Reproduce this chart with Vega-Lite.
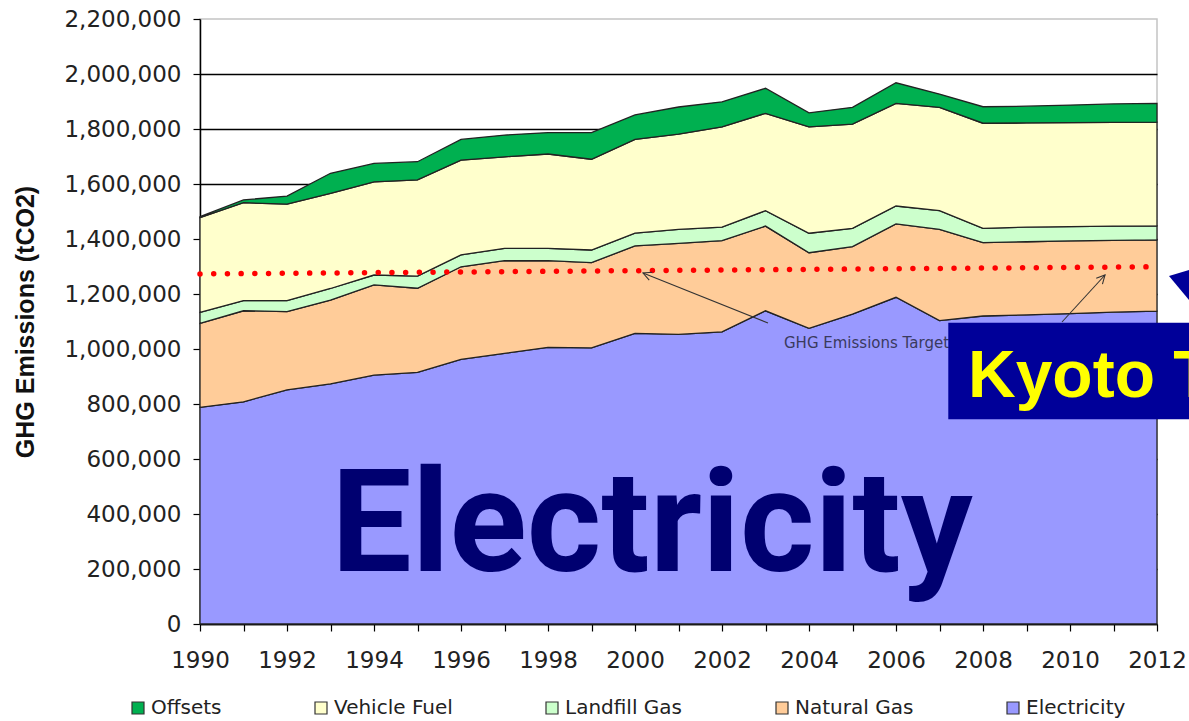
{
  "$schema": "https://vega.github.io/schema/vega-lite/v6.json",
  "width": 957,
  "height": 605,
  "autosize": {"type": "none"},
  "padding": {"left": 200, "top": 19, "right": 32, "bottom": 97},
  "background": "white",
  "config": {"view": {"stroke": "#c4c4c4", "strokeWidth": 1.5}},
  "layer": [
    {
      "data": {"values": [
        {"year":1990,"source":"Electricity","value":788000},{"year":1990,"source":"Natural Gas","value":305000},{"year":1990,"source":"Landfill Gas","value":40000},{"year":1990,"source":"Vehicle Fuel","value":345000},{"year":1990,"source":"Offsets","value":3000},
        {"year":1991,"source":"Electricity","value":808000},{"year":1991,"source":"Natural Gas","value":331000},{"year":1991,"source":"Landfill Gas","value":37000},{"year":1991,"source":"Vehicle Fuel","value":356000},{"year":1991,"source":"Offsets","value":10000},
        {"year":1992,"source":"Electricity","value":851000},{"year":1992,"source":"Natural Gas","value":285000},{"year":1992,"source":"Landfill Gas","value":40000},{"year":1992,"source":"Vehicle Fuel","value":351000},{"year":1992,"source":"Offsets","value":29000},
        {"year":1993,"source":"Electricity","value":873000},{"year":1993,"source":"Natural Gas","value":305000},{"year":1993,"source":"Landfill Gas","value":42000},{"year":1993,"source":"Vehicle Fuel","value":346000},{"year":1993,"source":"Offsets","value":73000},
        {"year":1994,"source":"Electricity","value":905000},{"year":1994,"source":"Natural Gas","value":328000},{"year":1994,"source":"Landfill Gas","value":36000},{"year":1994,"source":"Vehicle Fuel","value":339000},{"year":1994,"source":"Offsets","value":67000},
        {"year":1995,"source":"Electricity","value":915000},{"year":1995,"source":"Natural Gas","value":306000},{"year":1995,"source":"Landfill Gas","value":44000},{"year":1995,"source":"Vehicle Fuel","value":350000},{"year":1995,"source":"Offsets","value":66000},
        {"year":1996,"source":"Electricity","value":962000},{"year":1996,"source":"Natural Gas","value":337000},{"year":1996,"source":"Landfill Gas","value":43000},{"year":1996,"source":"Vehicle Fuel","value":345000},{"year":1996,"source":"Offsets","value":75000},
        {"year":1997,"source":"Electricity","value":984000},{"year":1997,"source":"Natural Gas","value":337000},{"year":1997,"source":"Landfill Gas","value":45000},{"year":1997,"source":"Vehicle Fuel","value":333000},{"year":1997,"source":"Offsets","value":79000},
        {"year":1998,"source":"Electricity","value":1006000},{"year":1998,"source":"Natural Gas","value":315000},{"year":1998,"source":"Landfill Gas","value":45000},{"year":1998,"source":"Vehicle Fuel","value":343000},{"year":1998,"source":"Offsets","value":78000},
        {"year":1999,"source":"Electricity","value":1004000},{"year":1999,"source":"Natural Gas","value":310000},{"year":1999,"source":"Landfill Gas","value":46000},{"year":1999,"source":"Vehicle Fuel","value":330000},{"year":1999,"source":"Offsets","value":97000},
        {"year":2000,"source":"Electricity","value":1057000},{"year":2000,"source":"Natural Gas","value":318000},{"year":2000,"source":"Landfill Gas","value":46000},{"year":2000,"source":"Vehicle Fuel","value":341000},{"year":2000,"source":"Offsets","value":89000},
        {"year":2001,"source":"Electricity","value":1053000},{"year":2001,"source":"Natural Gas","value":331000},{"year":2001,"source":"Landfill Gas","value":51000},{"year":2001,"source":"Vehicle Fuel","value":346000},{"year":2001,"source":"Offsets","value":99000},
        {"year":2002,"source":"Electricity","value":1062000},{"year":2002,"source":"Natural Gas","value":332000},{"year":2002,"source":"Landfill Gas","value":49000},{"year":2002,"source":"Vehicle Fuel","value":365000},{"year":2002,"source":"Offsets","value":91000},
        {"year":2003,"source":"Electricity","value":1139000},{"year":2003,"source":"Natural Gas","value":308000},{"year":2003,"source":"Landfill Gas","value":56000},{"year":2003,"source":"Vehicle Fuel","value":354000},{"year":2003,"source":"Offsets","value":91000},
        {"year":2004,"source":"Electricity","value":1075000},{"year":2004,"source":"Natural Gas","value":275000},{"year":2004,"source":"Landfill Gas","value":71000},{"year":2004,"source":"Vehicle Fuel","value":387000},{"year":2004,"source":"Offsets","value":51000},
        {"year":2005,"source":"Electricity","value":1127000},{"year":2005,"source":"Natural Gas","value":245000},{"year":2005,"source":"Landfill Gas","value":67000},{"year":2005,"source":"Vehicle Fuel","value":379000},{"year":2005,"source":"Offsets","value":61000},
        {"year":2006,"source":"Electricity","value":1188000},{"year":2006,"source":"Natural Gas","value":267000},{"year":2006,"source":"Landfill Gas","value":65000},{"year":2006,"source":"Vehicle Fuel","value":373000},{"year":2006,"source":"Offsets","value":75000},
        {"year":2007,"source":"Electricity","value":1103000},{"year":2007,"source":"Natural Gas","value":332000},{"year":2007,"source":"Landfill Gas","value":68000},{"year":2007,"source":"Vehicle Fuel","value":376000},{"year":2007,"source":"Offsets","value":48000},
        {"year":2008,"source":"Electricity","value":1120000},{"year":2008,"source":"Natural Gas","value":267000},{"year":2008,"source":"Landfill Gas","value":52000},{"year":2008,"source":"Vehicle Fuel","value":382000},{"year":2008,"source":"Offsets","value":60000},
        {"year":2009,"source":"Electricity","value":1124000},{"year":2009,"source":"Natural Gas","value":266000},{"year":2009,"source":"Landfill Gas","value":53000},{"year":2009,"source":"Vehicle Fuel","value":379000},{"year":2009,"source":"Offsets","value":61000},
        {"year":2010,"source":"Electricity","value":1129000},{"year":2010,"source":"Natural Gas","value":264000},{"year":2010,"source":"Landfill Gas","value":52000},{"year":2010,"source":"Vehicle Fuel","value":378000},{"year":2010,"source":"Offsets","value":64000},
        {"year":2011,"source":"Electricity","value":1134000},{"year":2011,"source":"Natural Gas","value":261000},{"year":2011,"source":"Landfill Gas","value":52000},{"year":2011,"source":"Vehicle Fuel","value":377000},{"year":2011,"source":"Offsets","value":67000},
        {"year":2012,"source":"Electricity","value":1138000},{"year":2012,"source":"Natural Gas","value":259000},{"year":2012,"source":"Landfill Gas","value":51000},{"year":2012,"source":"Vehicle Fuel","value":377000},{"year":2012,"source":"Offsets","value":68000}
      ]},
      "transform": [
        {"calculate": "indexof(['Electricity','Natural Gas','Landfill Gas','Vehicle Fuel','Offsets'], datum.source)", "as": "ord"}
      ],
      "mark": {"type": "area", "stroke": "#222", "strokeWidth": 1.3, "opacity": 1},
      "encoding": {
        "x": {
          "field": "year", "type": "quantitative",
          "scale": {"domain": [1990, 2012], "nice": false, "zero": false},
          "axis": {
            "title": null,
            "values": [1990,1991,1992,1993,1994,1995,1996,1997,1998,1999,2000,2001,2002,2003,2004,2005,2006,2007,2008,2009,2010,2011,2012],
            "labelExpr": "datum.value % 2 === 0 ? format(datum.value, 'd') : ''",
            "labelFlush": false, "labelOverlap": false,
            "labelFont": "DejaVu Sans", "labelFontSize": 23, "labelColor": "#222",
            "labelPadding": 18,
            "tickSize": 7, "tickColor": "#000", "tickWidth": 1.2,
            "domainColor": "#000", "domainWidth": 1.5,
            "grid": false
          }
        },
        "y": {
          "field": "value", "type": "quantitative", "stack": "zero",
          "scale": {"domain": [0, 2200000], "nice": false},
          "axis": {
            "title": "GHG Emissions (tCO2)",
            "values": [0,200000,400000,600000,800000,1000000,1200000,1400000,1600000,1800000,2000000,2200000],
            "labelExpr": "format(datum.value, ',')",
            "labelFont": "DejaVu Sans", "labelFontSize": 23, "labelColor": "#222",
            "labelPadding": 12,
            "tickSize": 7, "tickColor": "#000", "tickWidth": 1.2,
            "domainColor": "#000", "domainWidth": 1.5,
            "grid": true,
            "gridColor": {"condition": {"test": "datum.value === 2200000", "value": "transparent"}, "value": "#000"},
            "gridWidth": 1.6,
            "titleFont": "Liberation Sans", "titleFontWeight": "bold", "titleFontSize": 25, "titleColor": "#111",
            "titlePadding": 25
          }
        },
        "color": {
          "field": "source", "type": "nominal",
          "scale": {
            "domain": ["Offsets", "Vehicle Fuel", "Landfill Gas", "Natural Gas", "Electricity"],
            "range": ["#00B050", "#FFFFCC", "#CCFFCC", "#FFCC99", "#9999FF"]
          },
          "legend": {
            "orient": "none", "legendX": -72, "legendY": 679,
            "direction": "horizontal", "title": null,
            "symbolType": "square", "symbolSize": 144,
            "symbolStrokeColor": "#333", "symbolStrokeWidth": 1.2, "symbolOpacity": 1,
            "labelFont": "DejaVu Sans", "labelFontSize": 20, "labelColor": "#222",
            "labelOffset": 3, "columnPadding": 89, "labelLimit": 300
          }
        },
        "order": {"field": "ord", "type": "quantitative"}
      }
    },
    {
      "data": {"values": [{"year": 1990, "value": 1273000}, {"year": 2012, "value": 1299000}]},
      "mark": {"type": "line", "color": "#FF0000", "strokeWidth": 5.5, "strokeCap": "round", "strokeDash": [0.01, 13.7]},
      "encoding": {
        "x": {"field": "year", "type": "quantitative"},
        "y": {"field": "value", "type": "quantitative"}
      }
    },
    {
      "data": {"values": [
        {"year": 2003.057, "value": 1094545, "year2": 2000.184, "value2": 1276364},
        {"year": 2009.816, "value": 1098182, "year2": 2010.805, "value2": 1269091}
      ]},
      "mark": {"type": "rule", "color": "#333", "strokeWidth": 1.1},
      "encoding": {
        "x": {"field": "year", "type": "quantitative"},
        "y": {"field": "value", "type": "quantitative"},
        "x2": {"field": "year2"},
        "y2": {"field": "value2"}
      }
    },
    {
      "data": {"values": [{"year": 2000.184, "value": 1276364}]},
      "mark": {"type": "point", "shape": "M-0.6,1.2 L0,0 L0.6,1.2", "size": 196, "filled": false, "stroke": "#333", "strokeWidth": 1.1, "opacity": 1, "angle": 291.8},
      "encoding": {
        "x": {"field": "year", "type": "quantitative"},
        "y": {"field": "value", "type": "quantitative"}
      }
    },
    {
      "data": {"values": [{"year": 2010.805, "value": 1269091}]},
      "mark": {"type": "point", "shape": "M-0.6,1.2 L0,0 L0.6,1.2", "size": 196, "filled": false, "stroke": "#333", "strokeWidth": 1.1, "opacity": 1, "angle": 42.5},
      "encoding": {
        "x": {"field": "year", "type": "quantitative"},
        "y": {"field": "value", "type": "quantitative"}
      }
    },
    {
      "data": {"values": [{"year": 2003.425, "value": 1004700, "label": "GHG Emissions Target"}]},
      "mark": {"type": "text", "align": "left", "baseline": "alphabetic", "font": "DejaVu Sans", "fontSize": 15, "color": "#3a3a5e"},
      "encoding": {
        "x": {"field": "year", "type": "quantitative"},
        "y": {"field": "value", "type": "quantitative"},
        "text": {"field": "label"}
      }
    },
    {
      "data": {"values": [{"year": 2000.391, "value": 193818, "label": "Electricity"}]},
      "mark": {"type": "text", "align": "center", "baseline": "alphabetic", "font": "Roboto", "fontWeight": "bold", "fontSize": 143, "color": "#000070"},
      "encoding": {
        "x": {"field": "year", "type": "quantitative"},
        "y": {"field": "value", "type": "quantitative"},
        "text": {"field": "label"}
      }
    },
    {
      "data": {"values": [{"year": 2007.202, "value": 1095636, "year2": 2013.2, "value2": 744364}]},
      "mark": {"type": "rect", "color": "#000099", "opacity": 1},
      "encoding": {
        "x": {"field": "year", "type": "quantitative"},
        "y": {"field": "value", "type": "quantitative"},
        "x2": {"field": "year2"},
        "y2": {"field": "value2"}
      }
    },
    {
      "data": {"values": [{"year": 2007.655, "value": 826545, "label": "Kyoto Target"}]},
      "mark": {"type": "text", "align": "left", "baseline": "alphabetic", "font": "Liberation Sans", "fontWeight": "bold", "fontSize": 66, "color": "#FFFF00"},
      "encoding": {
        "x": {"field": "year", "type": "quantitative"},
        "y": {"field": "value", "type": "quantitative"},
        "text": {"field": "label"}
      }
    },
    {
      "data": {"values": [{"year": 2012.506, "value": 1229091}]},
      "mark": {"type": "point", "shape": "M-1,-1 L1,-1.6 L1,1.4 Z", "size": 400, "filled": true, "color": "#000099", "opacity": 1},
      "encoding": {
        "x": {"field": "year", "type": "quantitative"},
        "y": {"field": "value", "type": "quantitative"}
      }
    }
  ]
}
